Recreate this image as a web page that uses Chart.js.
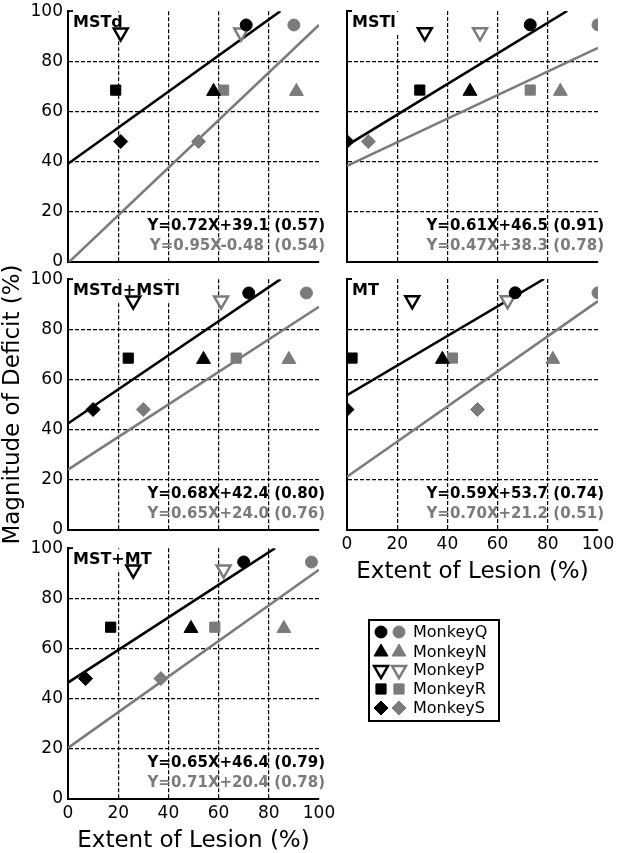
<!DOCTYPE html>
<html>
<head>
<meta charset="utf-8">
<script src="https://cdn.jsdelivr.net/npm/chart.js@4.4.1/dist/chart.umd.min.js"></script>
<style>
  html, body { margin: 0; padding: 0; background: #fff; }
  body { position: relative; width: 617px; height: 853px; overflow: hidden; }
  canvas { position: absolute; }
</style>
</head>
<body>
<canvas id="mstd"></canvas>
<canvas id="mstl"></canvas>
<canvas id="both"></canvas>
<canvas id="mt"></canvas>
<canvas id="mstmt"></canvas>
<canvas id="legend" width="150" height="120" style="left:360px;top:610px"></canvas>
<script>
// Magnitude of deficit vs extent of lesion, one panel per lesion site

const monkeys = ['MonkeyQ', 'MonkeyN', 'MonkeyP', 'MonkeyR', 'MonkeyS'];
const deficit = [94.5, 68, 91.5, 68.5, 48];
const tickValues = [0, 20, 40, 60, 80, 100];

// extent of lesion (%) per monkey, black and gray series
const mstdBlack = [71, 58, 21, 19, 21];
const mstdGray = [90, 91, 69, 62, 52];
const mstlBlack = [73, 49, 31, 29, 0];
const mstlGray = [100, 85, 53, 73, 8.5];
const bothBlack = [72, 54, 26, 24, 10];
const bothGray = [95, 88, 61, 67, 30];
const mtBlack = [67, 38, 26, 2, 0];
const mtGray = [100, 82, 64, 42, 52];
const mstmtBlack = [70, 49, 26, 17, 7];
const mstmtGray = [97, 86, 62, 58.5, 37];

// regression line end points [x0, y0, x1, y1], black then gray
const mstdFit = [[0, 39.1, 84.6, 100], [0, -0.48, 100, 94.5]];
const mstlFit = [[0, 46.5, 87.7, 100], [0, 38.3, 100, 85.3]];
const bothFit = [[0, 42.4, 84.7, 100], [0, 24.0, 100, 89.0]];
const mtFit = [[0, 53.7, 78.5, 100], [0, 21.2, 100, 91.2]];
const mstmtFit = [[0, 46.4, 82.5, 100], [0, 20.4, 100, 91.4]];

const mstdEq = ['Y=0.72X+39.1 (0.57)', 'Y=0.95X-0.48  (0.54)'];
const mstlEq = ['Y=0.61X+46.5 (0.91)', 'Y=0.47X+38.3 (0.78)'];
const bothEq = ['Y=0.68X+42.4 (0.80)', 'Y=0.65X+24.0 (0.76)'];
const mtEq = ['Y=0.59X+53.7 (0.74)', 'Y=0.70X+21.2 (0.51)'];
const mstmtEq = ['Y=0.65X+46.4 (0.79)', 'Y=0.71X+20.4 (0.78)'];

// marker look per monkey
const markerStyle = ['circle', 'triangle', 'triangle', 'rect', 'rectRot'];
const markerRotation = [0, 0, 180, 0, 0];
const markerRadius = [6, 8, 8, 7.2, 7];
const hollow = [false, false, true, false, false];

const BLACK = '#000000';
const GRAY = '#7b7b7b';
const FONT = '"DejaVu Sans", Verdana, sans-serif';

const AREA = 251;     // plot area size in px
const Y_AXIS_W = 68;  // room left of the plot area

const panels = [
  { id: 'mstd', label: 'MSTd', black: mstdBlack, gray: mstdGray, fit: mstdFit, eq: mstdEq, left: 68, top: 11, showX: false, showY: true },
  { id: 'mstl', label: 'MSTl', black: mstlBlack, gray: mstlGray, fit: mstlFit, eq: mstlEq, left: 347, top: 11, showX: false, showY: false },
  { id: 'both', label: 'MSTd+MSTl', black: bothBlack, gray: bothGray, fit: bothFit, eq: bothEq, left: 68, top: 279, showX: false, showY: true, yTitle: true },
  { id: 'mt', label: 'MT', black: mtBlack, gray: mtGray, fit: mtFit, eq: mtEq, left: 347, top: 279, showX: true, showY: false },
  { id: 'mstmt', label: 'MST+MT', black: mstmtBlack, gray: mstmtGray, fit: mstmtFit, eq: mstmtEq, left: 68, top: 548, showX: true, showY: true }
];

// panel name, axis corner tick and the two fit equations
const panelText = {
  id: 'panelText',
  beforeDatasetsDraw(chart, args, opts) {
    const { ctx, chartArea: a } = chart;
    ctx.save();
    ctx.strokeStyle = BLACK;
    ctx.lineWidth = 2;
    ctx.beginPath();
    ctx.moveTo(a.left, a.top);
    ctx.lineTo(a.left + 5, a.top);
    ctx.stroke();

    ctx.font = 'bold 16px ' + FONT;
    const w = ctx.measureText(opts.label).width;
    ctx.fillStyle = '#fff';
    ctx.fillRect(a.left + 2, a.top + 1, w + 6, 21);
    ctx.fillStyle = BLACK;
    ctx.textAlign = 'left';
    ctx.textBaseline = 'alphabetic';
    ctx.fillText(opts.label, a.left + 5, a.top + 16);
    ctx.restore();
  },
  afterDatasetsDraw(chart, args, opts) {
    const { ctx, chartArea: a } = chart;
    ctx.save();
    ctx.font = 'bold 15px ' + FONT;
    ctx.textAlign = 'right';
    ctx.textBaseline = 'alphabetic';
    ctx.fillStyle = BLACK;
    ctx.fillText(opts.eq[0], a.right + 6, a.bottom - 32);
    ctx.fillStyle = GRAY;
    ctx.fillText(opts.eq[1], a.right + 6, a.bottom - 12);
    ctx.restore();
  }
};

function pointSet(xs, color) {
  return {
    data: xs.map((x, i) => ({ x: x, y: deficit[i] })),
    showLine: false,
    pointStyle: markerStyle,
    rotation: markerRotation,
    pointRadius: markerRadius,
    pointBackgroundColor: hollow.map(h => h ? '#fff' : color),
    pointBorderColor: color,
    pointBorderWidth: hollow.map(h => h ? 2.5 : 1),
    order: 0
  };
}

function lineSet(f, color) {
  return {
    data: [{ x: f[0], y: f[1] }, { x: f[2], y: f[3] }],
    showLine: true,
    borderColor: color,
    borderWidth: 2.6,
    pointRadius: 0,
    order: 1
  };
}

function gridColor(ctx) {
  const v = ctx.tick.value;
  return v > 0 && v < 100 ? BLACK : 'rgba(0,0,0,0)';
}

function makePanel(p) {
  const bottomH = p.showX ? 56 : 14;
  const canvas = document.getElementById(p.id);
  canvas.width = Y_AXIS_W + AREA + 34;
  canvas.height = 12 + AREA + bottomH;

  const chart = new Chart(canvas, {
    type: 'scatter',
    data: {
      datasets: [
        pointSet(p.black, BLACK),
        pointSet(p.gray, GRAY),
        lineSet(p.fit[0], BLACK),
        lineSet(p.fit[1], GRAY)
      ]
    },
    options: {
      responsive: false,
      maintainAspectRatio: false,
      animation: false,
      devicePixelRatio: 1,
      layout: { padding: { left: 0, top: 12, right: 34, bottom: 0 } },
      plugins: {
        legend: { display: false },
        tooltip: { enabled: false },
        panelText: { label: p.label, eq: p.eq }
      },
      scales: {
        x: {
          type: 'linear',
          min: 0,
          max: 100,
          afterBuildTicks: s => { s.ticks = tickValues.map(v => ({ value: v })); },
          afterFit: s => { s.height = bottomH; },
          ticks: { display: p.showX, color: BLACK, font: { family: FONT, size: 17 }, padding: 4, maxRotation: 0 },
          grid: { drawTicks: false, color: gridColor, lineWidth: 1.2 },
          border: { display: true, color: BLACK, width: 2, dash: [4, 2] },
          title: {
            display: p.showX,
            text: 'Extent of Lesion (%)',
            color: BLACK,
            font: { family: FONT, size: 23, lineHeight: 1.2 },
            padding: { top: 0, bottom: 0 }
          }
        },
        y: {
          type: 'linear',
          min: 0,
          max: 100,
          afterBuildTicks: s => { s.ticks = tickValues.map(v => ({ value: v })); },
          afterFit: s => { s.width = Y_AXIS_W; },
          ticks: { display: p.showY, color: BLACK, font: { family: FONT, size: 17 }, padding: 5 },
          grid: { drawTicks: false, color: gridColor, lineWidth: 1.2 },
          border: { display: true, color: BLACK, width: 2, dash: [4, 2] },
          title: {
            display: !!p.yTitle,
            text: 'Magnitude of Deficit (%)',
            color: BLACK,
            font: { family: FONT, size: 23, lineHeight: 1 },
            padding: { top: 2, bottom: 0 }
          }
        }
      }
    },
    plugins: [panelText]
  });

  // make the plot area exactly AREA x AREA, then place it
  let a = chart.chartArea;
  const dw = AREA - Math.round(a.right - a.left);
  const dh = AREA - Math.round(a.bottom - a.top);
  if (dw || dh) chart.resize(canvas.width + dw, canvas.height + dh);
  a = chart.chartArea;
  canvas.style.left = Math.round(p.left - a.left) + 'px';
  canvas.style.top = Math.round(p.top - a.top) + 'px';
}

panels.forEach(makePanel);

// legend: black and gray marker per monkey
function drawLegend() {
  const canvas = document.getElementById('legend');
  const ctx = canvas.getContext('2d');
  ctx.strokeStyle = BLACK;
  ctx.lineWidth = 2;
  ctx.strokeRect(9, 10, 130, 101);

  const rowY = [22, 42, 60, 79, 98];
  monkeys.forEach((name, i) => {
    [[BLACK, 21], [GRAY, 39]].forEach(([color, x]) => {
      ctx.save();
      ctx.fillStyle = hollow[i] ? '#fff' : color;
      ctx.strokeStyle = color;
      ctx.lineWidth = hollow[i] ? 2.5 : 1;
      Chart.helpers.drawPoint(ctx, {
        pointStyle: markerStyle[i],
        rotation: markerRotation[i],
        radius: markerRadius[i],
        borderWidth: hollow[i] ? 2.5 : 1
      }, x, rowY[i]);
      ctx.restore();
    });
    ctx.fillStyle = BLACK;
    ctx.font = '16px ' + FONT;
    ctx.textAlign = 'left';
    ctx.textBaseline = 'middle';
    ctx.fillText(name, 53, rowY[i] + 1);
  });
}

drawLegend();
</script>
</body>
</html>
